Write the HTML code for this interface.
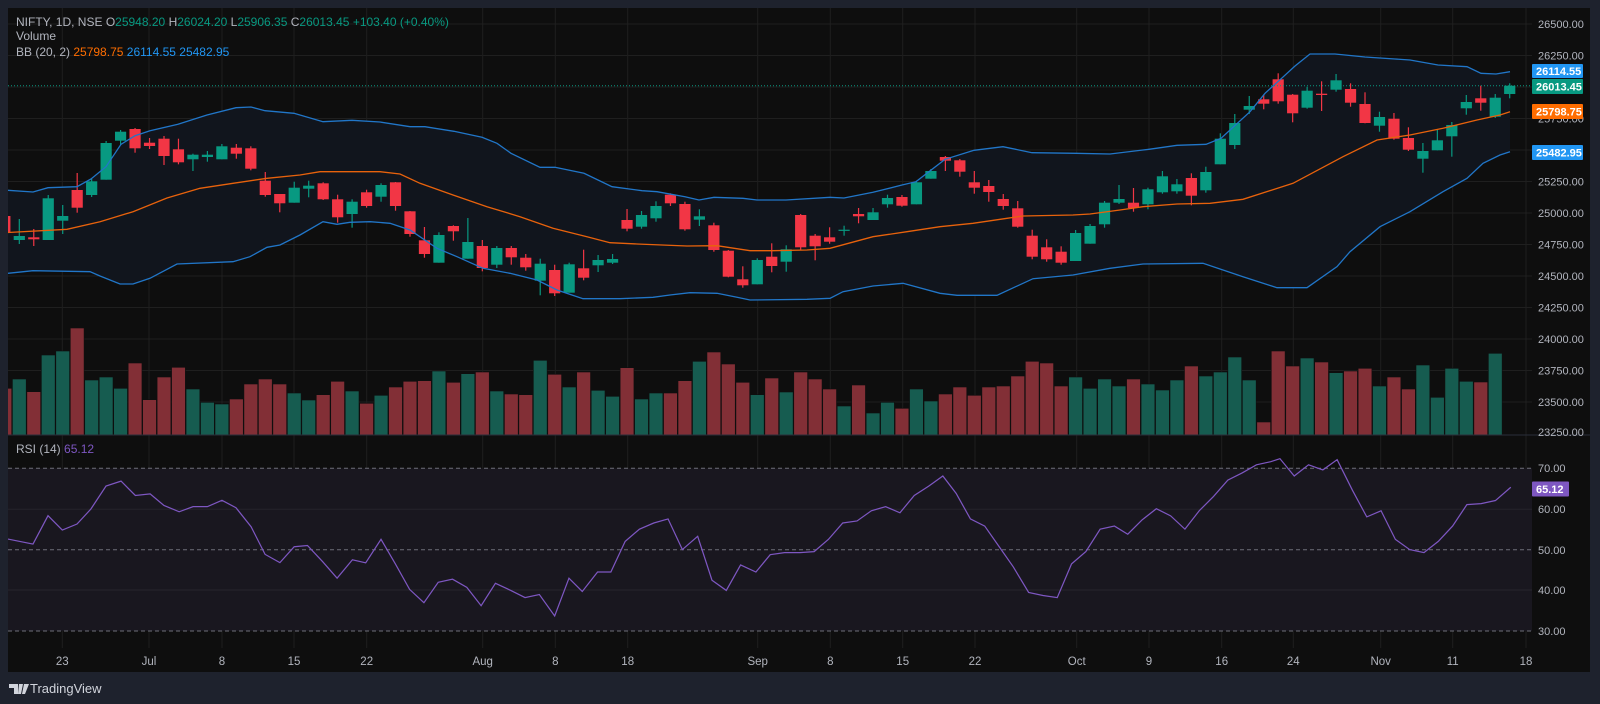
<!DOCTYPE html>
<html><head><meta charset="utf-8"><style>
html,body{margin:0;padding:0;background:#1e222d;width:1600px;height:704px;overflow:hidden}
svg{display:block;font-family:"Liberation Sans",sans-serif}
</style></head><body>
<svg id="s" width="1600" height="704" viewBox="0 0 1600 704" xmlns="http://www.w3.org/2000/svg">
<rect x="0" y="0" width="1600" height="704" fill="#1e222d"/>
<rect x="8" y="8" width="1583" height="664" fill="#0e0e0e"/>
<g id="grid" stroke="#1f1f1f" stroke-width="1"></g>
<!-- BB fill -->
<polygon id="bbfill" fill="#11151d"/>
<!-- RSI band -->
<rect x="8" y="468.3" width="1524" height="162.7" fill="#19171f"/>
<line x1="8" y1="509.3" x2="1532" y2="509.3" stroke="#26242c"/>
<line x1="8" y1="590" x2="1532" y2="590" stroke="#26242c"/>
<g id="vol"></g>
<g id="candles"></g>
<polyline id="up" fill="none" stroke="#2176c8" stroke-width="1.3"/>
<polyline id="lo" fill="none" stroke="#2176c8" stroke-width="1.3"/>
<polyline id="mid" fill="none" stroke="#e8620c" stroke-width="1.3"/>
<line x1="8" y1="85.7" x2="1532" y2="85.7" stroke="#089981" stroke-width="1" stroke-dasharray="1 2"/>
<line x1="8" y1="435" x2="1591" y2="435" stroke="#2a2e39"/>
<g stroke="#6d6f78" stroke-dasharray="4 3" stroke-width="1">
<line x1="8" y1="468.3" x2="1532" y2="468.3"/>
<line x1="8" y1="549.7" x2="1532" y2="549.7"/>
<line x1="8" y1="631" x2="1532" y2="631"/>
</g>
<g transform="scale(1.0215)">
<polyline fill="none" stroke="#7e57c2" stroke-width="1.2" points="7.8,527.7 32.3,532.6 47,504.8 61,518.9 75.4,513 89,498.3 103.8,475.8 118.5,471 132.5,485 147,483.5 160.5,494.8 175.4,501 189,496 203,496 217.3,489.8 231,497 245.8,515.6 259.5,542.7 274,550.8 288,535.2 301,534 316,550 330,566 345,548 358,551 373,528 387,552 401,577 415,590 429,570 443,567 457,575 471,593 485,571 500,578 514,585 528,582 543,603 557,566 570,579 585,560 598,560 612,530 626,518 640,512 654,508 668,538 683,525 697,568 711,578 725,553 740,560 754,543 768,541 783,541 797,540 811,528 825,512 839,510 853,500 867,496 881,502 895,485 909,476 923,466 936,483 950,508 964,515 978,535 992,555 1007,580 1021,583 1035,585 1049,552 1063,540 1077,518 1091,515 1104,523 1118,509 1132,498 1146,505 1160,518 1174,500 1188,486 1202,470 1216,463 1230,455 1244,452 1253,449 1267,466 1281,455 1295,460 1309,450 1324,480 1338,506 1352,500 1366,528 1380,538 1394,541 1408,530 1422,515 1436,494 1450,493 1464,490 1479,477"/>
</g>
<!-- left border strip -->
<rect x="0" y="0" width="8" height="704" fill="#1e222d"/>
<!-- legend -->
<g font-size="12" fill="#b2b5be">
<text x="16" y="26">NIFTY, 1D, NSE <tspan fill="#b2b5be">O</tspan><tspan fill="#089981">25948.20</tspan> <tspan>H</tspan><tspan fill="#089981">26024.20</tspan> <tspan>L</tspan><tspan fill="#089981">25906.35</tspan> <tspan>C</tspan><tspan fill="#089981">26013.45</tspan> <tspan fill="#089981">+103.40 (+0.40%)</tspan></text>
<text x="16" y="40">Volume</text>
<text x="16" y="56">BB (20, 2) <tspan fill="#ff6d00">25798.75</tspan> <tspan fill="#2196f3">26114.55</tspan> <tspan fill="#2196f3">25482.95</tspan></text>
<text x="16" y="453">RSI (14) <tspan fill="#7e57c2">65.12</tspan></text>
</g>
<!-- price axis -->
<g font-size="11" fill="#b2b5be">
<text x="1538" y="28">26500.00</text>
<text x="1538" y="59.5">26250.00</text>
<text x="1538" y="122.5">25750.00</text>
<text x="1538" y="185.5">25250.00</text>
<text x="1538" y="217">25000.00</text>
<text x="1538" y="248.5">24750.00</text>
<text x="1538" y="280">24500.00</text>
<text x="1538" y="311.5">24250.00</text>
<text x="1538" y="343">24000.00</text>
<text x="1538" y="374.5">23750.00</text>
<text x="1538" y="406">23500.00</text>
<text x="1538" y="436">23250.00</text>
<text x="1538" y="472">70.00</text>
<text x="1538" y="513">60.00</text>
<text x="1538" y="554">50.00</text>
<text x="1538" y="594">40.00</text>
<text x="1538" y="635">30.00</text>
</g>
<rect x="0" y="436" width="1600" height="0" />
<g font-size="11" font-weight="bold" fill="#ffffff">
<rect x="1532" y="64" width="51" height="14" fill="#2196f3" rx="1"/><text x="1536" y="75">26114.55</text>
<rect x="1532" y="79" width="51" height="15" fill="#089981" rx="1"/><text x="1536" y="90.5">26013.45</text>
<rect x="1532" y="104" width="51" height="15" fill="#ff6d00" rx="1"/><text x="1536" y="115.5">25798.75</text>
<rect x="1532" y="145" width="51" height="15" fill="#2196f3" rx="1"/><text x="1536" y="156.5">25482.95</text>
<rect x="1532" y="481.5" width="37" height="15" fill="#7e57c2" rx="1"/><text x="1536" y="493">65.12</text>
</g>
<!-- time axis -->
<g font-size="11.5" fill="#b2b5be" text-anchor="middle">
<text x="62.3" y="665">23</text><text x="149" y="665">Jul</text><text x="222" y="665">8</text><text x="294" y="665">15</text><text x="366.7" y="665">22</text><text x="482.7" y="665">Aug</text><text x="555.3" y="665">8</text><text x="627.7" y="665">18</text><text x="757.7" y="665">Sep</text><text x="830.3" y="665">8</text><text x="902.7" y="665">15</text><text x="975" y="665">22</text><text x="1076.7" y="665">Oct</text><text x="1149" y="665">9</text><text x="1221.7" y="665">16</text><text x="1293.3" y="665">24</text><text x="1380.7" y="665">Nov</text><text x="1452.7" y="665">11</text><text x="1526" y="665">18</text>
</g>
<rect x="1590" y="8" width="10" height="696" fill="#1e222d"/>
<rect x="0" y="672" width="1600" height="32" fill="#1e222d"/>
<!-- TradingView logo -->
<g fill="#d1d4dc">
<path d="M9 684h9v10h-4v-6h-5z M19 684h4l-2 10h-3z M24 684h5l-4 10h-3z"/>
<text x="30" y="693" font-size="13">TradingView</text>
</g>
</svg>
<script>
(function(){
var NS="http://www.w3.org/2000/svg";
function el(p,t,a){var e=document.createElementNS(NS,t);for(var k in a)e.setAttribute(k,a[k]);p.appendChild(e);return e;}
var g=document.getElementById('grid');
[24,55.5,87,118.5,150,181.5,213,244.5,276,307.5,339,370.5,402].forEach(function(y){el(g,'line',{x1:8,x2:1532,y1:y,y2:y});});
[62.3,149,222,294,366.7,482.7,555.3,627.7,757.7,830.3,902.7,975,1076.7,1149,1221.7,1293.3,1380.7,1452.7,1526].forEach(function(x){el(g,'line',{x1:x,x2:x,y1:8,y2:648});});
var up="8,190.3 33,192 48,187.7 77,186.7 91,179 106,166.7 121,144.3 135,135.7 150,130.7 178,124.3 207,115 236,107.7 251,107 265,110.7 294,113.3 323,121.7 352,120.3 380,122 410,126.7 425,126.7 454,131.3 482,137.3 497,143.3 511,153.3 540,167.3 555,167.3 584,173.3 612,186.7 642,190.7 657,191.7 685,196.7 699,200 714,197.3 743,198.3 757,200 786,200 830,197.3 844,198 873,192.3 902,185 916,181.7 945,159.3 974,150.3 1003,146.7 1032,152.7 1076,153.3 1110,154 1149,149.3 1177,145.3 1206,144.3 1221,138.3 1250,111.7 1265,93.3 1279,80.7 1295,66 1310,54 1335,54 1365,57 1395,59 1410,60 1438,65 1467,66.7 1481,73.3 1496,74 1510,71.7";
var lo="8,273.3 33,270.7 90,271.7 100,276 120,284 133,284 150,278.3 177,264 233,261.7 250,256.7 267,247.3 280,245 300,235 323,221.7 337,224.3 350,222.3 370,221.7 390,223.3 410,230 437,248.3 457,256.7 483,268.3 510,273.3 537,280 557,290 583,298.7 620,298.7 653,297.3 670,295 690,292.7 717,293.3 737,297.3 750,300 807,299.3 830,298.3 843,291.7 873,286 903,283.3 940,293.3 957,295.3 997,295.3 1033,278.7 1073,275 1110,268.3 1143,264 1203,263.3 1243,276.7 1277,287.7 1307,287.7 1337,266.7 1350,251.7 1380,226.7 1410,211.7 1443,191.7 1467,178.3 1483,163.3 1500,155 1510,151.7";
var mid="8,232.5 67,229.3 100,221.7 133,211.7 167,198 200,188.3 233,183.3 267,178.3 300,175 320,171.7 380,171.7 400,174 420,183.3 453,195 487,206.7 520,216.7 553,228.3 587,236.7 610,242.7 637,244 687,246 717,245.7 750,250.7 773,250.7 807,250 830,248.3 873,236.7 907,231.7 940,226.7 973,223.3 1007,218.3 1023,216 1073,215 1090,214 1120,210 1143,206.7 1177,204 1210,203.3 1243,199.3 1293,183.3 1343,156.7 1377,140 1410,135 1443,128.3 1477,120 1500,115 1510,111.7";
document.getElementById('up').setAttribute('points',up);
document.getElementById('lo').setAttribute('points',lo);
document.getElementById('mid').setAttribute('points',mid);
document.getElementById('bbfill').setAttribute('points',up+" "+lo.split(' ').reverse().join(' '));
var C=[[216,232,214,234,'r'],[236,240,219,244,'g'],[237.3,239.3,229,246,'r'],[198.3,240,195,240,'g'],[216,220.7,205,234,'g'],[190,207.7,173,212.7,'r'],[181.3,195,179,197,'g'],[143,179.7,141,179.7,'g'],[131.7,140.7,130,145,'g'],[129,148.3,128,152.7,'r'],[142.7,146,138,149,'r'],[138.7,156,136,165,'r'],[149.3,162.3,138.7,164.3,'r'],[154.7,159.3,153.7,171,'g'],[154.7,157,151,161.7,'g'],[146.3,159.3,144,159.3,'g'],[147.7,153.7,144,158.7,'r'],[148.3,168.7,146.3,170.3,'r'],[180.7,195,172,196.7,'r'],[194,203.3,194,212.3,'r'],[187.7,202.7,181.7,202.7,'g'],[185.7,188.7,180.7,197.3,'g'],[183.3,199.3,182.3,200,'r'],[199.3,217.3,194.7,222.7,'r'],[201.7,214,199.3,227.7,'g'],[192.3,206,189.7,207.7,'r'],[185,196.7,183.3,201.7,'g'],[182.3,206,182,210.7,'r'],[211.3,234,211,236.7,'r'],[240.3,254,227,257.7,'r'],[235,262.7,232.3,262.7,'g'],[226,231.3,225.3,240.7,'r'],[242,258.7,218,258.7,'g'],[246,268,240,271.3,'r'],[248,264.7,246,268,'g'],[248,257.3,246,264.7,'r'],[257.7,267.3,254,270.7,'r'],[263.7,280.7,258.7,295.3,'g'],[270,293.3,264.7,296,'r'],[264.3,292.7,262.7,292.7,'g'],[268.3,277.7,249.7,280.3,'r'],[260,265.3,255,272,'g'],[259,262.7,254,264,'g'],[220,228.7,209,231.3,'r'],[215,226.7,211,228.7,'g'],[206,218.3,201.3,221.7,'g'],[194.7,203.3,193.3,206,'r'],[204,229.3,201.7,230.7,'r'],[216.3,219.7,209.3,226,'g'],[225.3,250,222.7,251.7,'r'],[250.7,276.7,250,277.3,'r'],[279.3,285.3,266.3,287.7,'r'],[260,284.3,258.3,284.3,'g'],[256.7,266,243.3,272.3,'r'],[249.3,261.7,245.3,271.7,'g'],[215,247.3,214,250,'r'],[235.7,246.3,234,260.3,'r'],[237.3,241.7,227.3,243.7,'r'],[229.7,230.7,225.7,235.7,'g'],[214,216.3,208,223.3,'r'],[212.3,220,208,220,'g'],[198,204.3,194.7,207.7,'g'],[197,205.7,195,206.7,'r'],[182.3,204.3,180.7,204.3,'g'],[171,178.7,169,178.7,'g'],[157,160.7,156,171,'r'],[160.3,171.7,159,176.7,'r'],[182.3,187.7,171,193.7,'r'],[186,192,180,201.7,'r'],[199,206,194,209.7,'r'],[208.3,226.7,201,227.7,'r'],[235.7,256.7,229.7,259.3,'r'],[247.3,259.3,239.3,261.7,'r'],[251.7,262.7,246.3,264.7,'r'],[233,261,230,261,'g'],[226,243.7,224,243.7,'g'],[202.7,224.3,201,227.7,'g'],[199,202.7,185,204,'g'],[202.7,208,188,211.7,'r'],[189.3,204.3,187.7,209.3,'g'],[176.3,192.3,171,193.7,'g'],[184.3,191.3,179,193.7,'g'],[178,195.7,173.3,205.3,'r'],[172,190.3,166.7,192.7,'g'],[138.7,164.3,133.3,164.3,'g'],[123,145,114,149,'g'],[106,109.7,96,114,'g'],[99.3,103.7,94.7,109.3,'r'],[79.3,101.3,73.3,103.7,'r'],[94.7,113.3,94,122.3,'r'],[90.7,107.7,86.7,108.7,'g'],[93.7,95,81.3,111,'r'],[80.3,89.7,74,91.7,'g'],[89,102.7,83.3,106.7,'r'],[104,123,92.3,123.3,'r'],[117,125.7,111.7,131.7,'g'],[118.7,138.7,113,139.7,'r'],[138,149.7,127.3,151,'r'],[151,158.7,143,172.7,'g'],[140.3,150.3,130,150.3,'g'],[125,136.3,122,156.7,'g'],[102,108.3,95,114.7,'g'],[98.3,102.7,85.7,110.7,'r'],[97.7,116.7,94,118,'g'],[85.7,94,83.3,98.3,'g']];
var V=[388.3,379,391.7,355,351,328,380,377,388.3,363,399.7,377,367.3,389,402.3,404,399,384,379,384,393,400,394.7,381.3,391,403.3,395.3,387,381.3,380.7,371,382.3,373.7,372,391,394,394.7,360.3,374.3,387,372,390.3,396.3,367.7,399,393,393,380.7,361.3,352,364,382.3,394.7,378,392,372,379,389,406,385,413,402.3,408.3,389,401,394,387,395.3,387,386,376,361.3,363,386,377,388.3,379,386,379,384,390,380,366,376,372,357,380,422,351,366,358,362,372.7,371,368.3,386,377,389,365,397.3,368.3,381.3,382,353.3];
var vg=document.getElementById('vol'),cg=document.getElementById('candles');
for(var k=0;k<C.length;k++){
 var i=k-1,x=19.3+i*14.47,c=C[k],col=c[4]=='g'?'#089981':'#f23645';
 if(k<V.length){el(vg,'rect',{x:x-6.9,y:V[k],width:13.8,height:435-V[k],fill:c[4]=='g'?'#165c50':'#822f36',stroke:'#0e0e0e','stroke-width':0.6});}
 el(cg,'line',{x1:x,x2:x,y1:c[2],y2:c[3],stroke:col,'stroke-width':1.2});
 el(cg,'rect',{x:x-5.6,y:c[0],width:11.2,height:Math.max(1.2,c[1]-c[0]),fill:col});
}
})();
</script>
</body></html>
